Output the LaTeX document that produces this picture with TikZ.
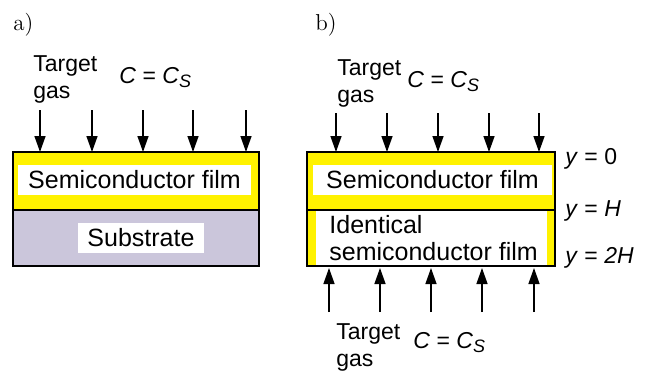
\documentclass[tikz,border=0pt]{standalone}
\usepackage{fontspec}
\usepackage{xcolor}
\usepackage{tikz}
\usetikzlibrary{arrows.meta}
\newfontfamily\arial{Liberation Sans}
\colorlet{filmcolor}{yellow}
\definecolor{subcolor}{RGB}{203,198,219}
\newcommand\var[1]{\textit{#1}}
\newcommand\conc{\var{C} = \var{C}\raisebox{-.35ex}{\fontsize{9}{10}\selectfont\var{S}}}
\tikzstyle{gashead}=[>/.tip={Triangle[length=8pt,width=5.5pt]}]
\tikzstyle{flux}=[line width=.7pt,gashead,->]
\tikzstyle{layer}=[line width=.7pt]
\tikzstyle{sans}=[font=\arial\fontsize{11.5}{13.5}\selectfont,inner sep=0pt]
\tikzstyle{boxtext}=[font=\arial\fontsize{12.5}{13.5}\selectfont,inner sep=0pt]
\tikzstyle{panel}=[font=\fontsize{11.5}{13}\selectfont,inner sep=0pt,anchor=base west]
\begin{document}
\begin{tikzpicture}[x=.5pt,y=-.5pt]
	\useasboundingbox (0,0) rectangle (649,371);
	% a) film on substrate
	\node[panel] (la) at (13,30) {a)};
	\node[sans,align=left,anchor=base west] (gasA) at (33,98) {Target\\gas};
	\node[sans,anchor=base west] (concA) at (119,83) {\conc};
	\fill[filmcolor] (13,152) rectangle (259,210);
	\fill[subcolor] (13,210) rectangle (259,266);
	\draw[layer] (13,152) rectangle (259,266) (13,210) -- (259,210);
	\node[boxtext,fill=white,minimum width=116.5pt,minimum height=15pt] (filmA) at (134.5,180) {Semiconductor film};
	\node[boxtext,fill=white,minimum width=63pt,minimum height=15pt] (subA) at (141,238) {Substrate};
	\foreach \i/\x in {1/40,2/92,3/143,4/193,5/246}{
		\coordinate (ta\i) at (\x,110);
		\coordinate (ha\i) at (\x,152);
		\draw[flux] (ta\i) -- (ha\i);
	}
	% b) two identical films, gas from both sides
	\node[panel] (lb) at (315,30) {b)};
	\node[sans,align=left,anchor=base west] (gasB) at (337,102) {Target\\gas};
	\node[sans,anchor=base west] (concB) at (407,87) {\conc};
	\fill[filmcolor] (307,152) rectangle (555,266);
	\fill[white] (316,210) rectangle (547,266);
	\draw[layer] (307,152) rectangle (555,266) (307,210) -- (555,210);
	\node[boxtext,fill=white,minimum width=119.5pt,minimum height=15pt] (filmB) at (432.5,180) {Semiconductor film};
	\node[boxtext,align=left,anchor=base west] (twinB) at (329,260) {Identical\\semiconductor film};
	\node[sans,anchor=base west] (y0) at (565,164) {\var{y} = 0};
	\node[sans,anchor=base west] (yH) at (565,216) {\var{y} = \var{H}};
	\node[sans,anchor=base west] (y2H) at (565,263) {\var{y} = \var{2H}};
	\foreach \i/\x in {1/336,2/387,3/438,4/489,5/539}{
		\coordinate (tb\i) at (\x,113);
		\coordinate (hb\i) at (\x,152);
		\draw[flux] (tb\i) -- (hb\i);
	}
	\foreach \i/\x in {1/329,2/380,3/431,4/482,5/534}{
		\coordinate (tc\i) at (\x,312);
		\coordinate (hc\i) at (\x,268);
		\draw[flux] (tc\i) -- (hc\i);
	}
	\node[sans,align=left,anchor=base west] (gasC) at (336,366) {Target\\gas};
	\node[sans,anchor=base west] (concC) at (413,348) {\conc};
\end{tikzpicture}
\end{document}
